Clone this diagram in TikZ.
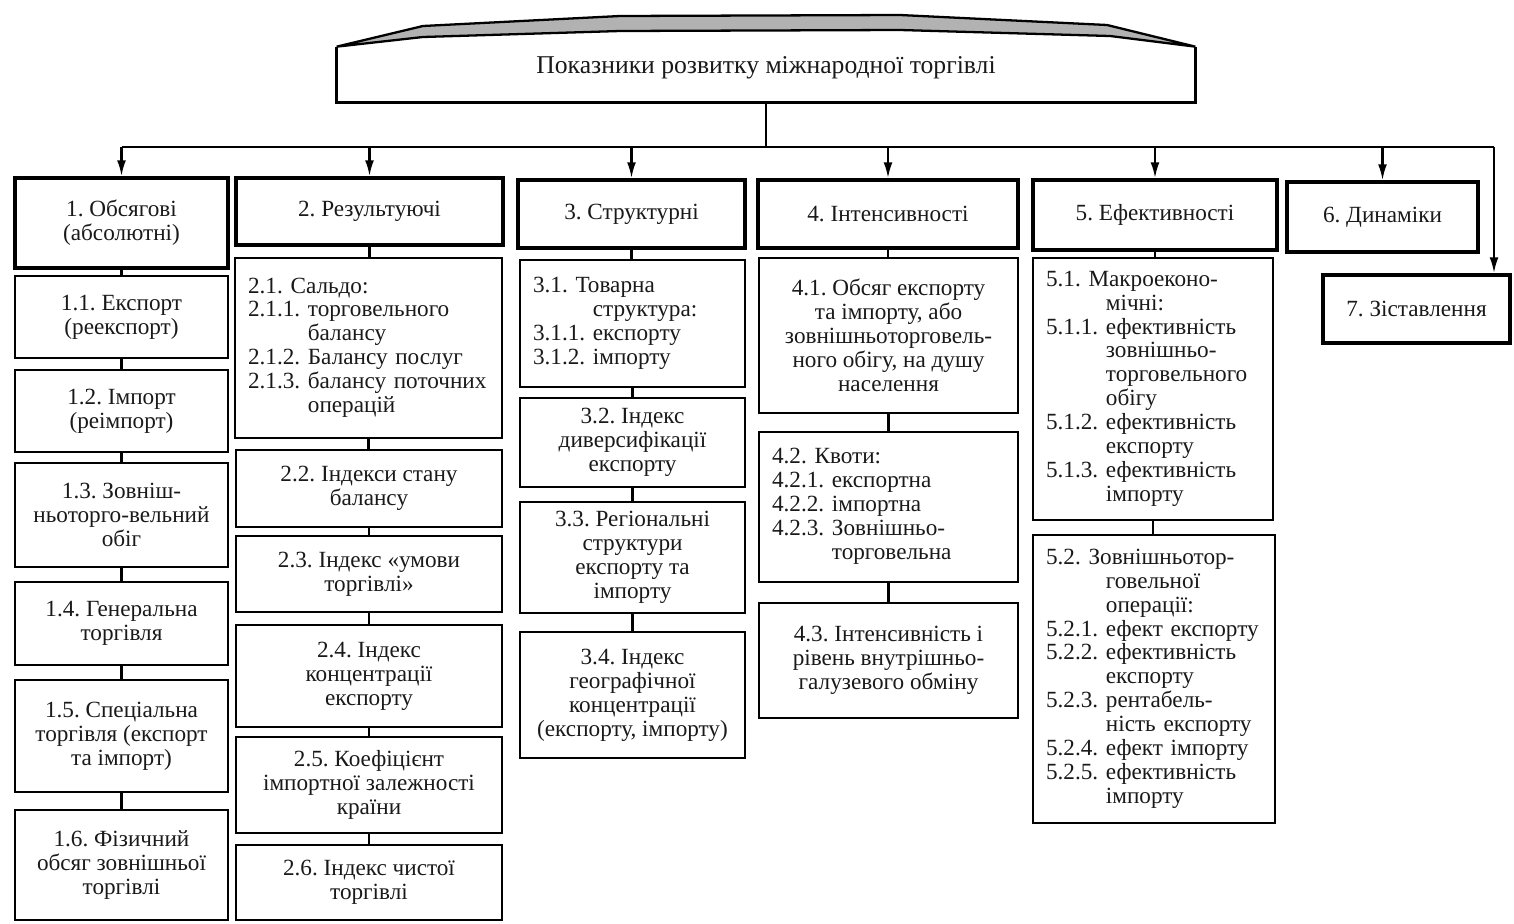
\documentclass[tikz,border=0pt]{standalone}
\usepackage{fontspec}
\setmainfont{Liberation Serif}
\frenchspacing
\usetikzlibrary{arrows.meta}
\tikzset{
    box/.style 2 args={
            draw, line width=1.3pt, align=center, inner sep=0pt, text=black!90,
            minimum width=#1*0.02cm, minimum height=#2*0.02cm,
            font=\fontsize{13.2}{13.6}\selectfont
        },
    headbox/.style 2 args={box={#1}{#2}, line width=2pt},
    listbox/.style={align=left, inner xsep=0.26cm},
    link/.style={line width=1.3pt},
    feed/.style={line width=1.3pt, -{Latex[length=9pt,width=5pt]}},
}

\begin{document}
\begin{tikzpicture}[x=0.02cm, y=-0.02cm]
        \useasboundingbox (0, 0) rectangle (1514, 923);
        %title
        \node[minimum width=858*0.02cm, minimum height=55*0.02cm, inner sep=0pt, text depth=11pt,
            text=black!90, font=\fontsize{14.6}{15}\selectfont] (title) at (766, 74.5) {Показники розвитку міжнародної торгівлі};
        \draw[line width=2pt] (title.north west) -- (title.south west) -- (title.south east) -- (title.north east);
        \draw[line width=1.3pt, fill=gray!60] (title.north west) -- (423, 26) -- (620, 16) -- (900, 15) -- (1107, 25)
        -- (title.north east) -- (1110, 36) -- (900, 30) -- (620, 31) -- (423, 37) -- cycle;
        %main groups
        \node[headbox={213}{90}] (n1) at (121.5, 223) {1. Обсягові\\(абсолютні)};
        \node[headbox={267}{67}] (n2) at (369.5, 211.5) {2. Результуючі};
        \node[headbox={227}{68}] (n3) at (631.5, 214) {3. Структурні};
        \node[headbox={260}{68}] (n4) at (888, 214) {4. Інтенсивності};
        \node[headbox={244}{70}] (n5) at (1155, 215) {5. Ефективності};
        \node[headbox={191}{70}] (n6) at (1382.5, 217) {6. Динаміки};
        \node[headbox={187}{68}] (n7) at (1416.5, 309) {7. Зіставлення};
        %column 1
        \node[box={213}{82}] (n11) at (121.5, 317) {1.1. Експорт\\(реекспорт)};
        \node[box={213}{82}] (n12) at (121.5, 411) {1.2. Імпорт\\(реімпорт)};
        \node[box={213}{104}] (n13) at (121.5, 515) {1.3. Зовніш-\\ньоторго-вельний\\обіг};
        \node[box={213}{83}] (n14) at (121.5, 623.5) {1.4. Генеральна\\торгівля};
        \node[box={213}{112}] (n15) at (121.5, 736) {1.5. Спеціальна\\торгівля (експорт\\та імпорт)};
        \node[box={213}{110}] (n16) at (121.5, 865) {1.6. Фізичний\\обсяг зовнішньої\\торгівлі};
        %column 2
        \node[box={267}{180}, listbox, text width=4.82cm] (n21) at (368.5, 348) {%
            \begin{tabular}{@{}l@{ }l@{}}
                \multicolumn{2}{@{}l@{}}{2.1. Сальдо:} \\
                2.1.1. & торговельного                 \\
                       & балансу                       \\
                2.1.2. & Балансу послуг                \\
                2.1.3. & балансу поточних              \\
                       & операцій
            \end{tabular}};
        \node[box={266}{77}] (n22) at (369, 488.5) {2.2. Індекси стану\\балансу};
        \node[box={266}{76}] (n23) at (369, 574) {2.3. Індекс «умови\\торгівлі»};
        \node[box={266}{102}] (n24) at (369, 676) {2.4. Індекс\\концентрації\\експорту};
        \node[box={266}{96}] (n25) at (369, 785) {2.5. Коефіцієнт\\імпортної залежності\\країни};
        \node[box={266}{75}] (n26) at (369, 882.5) {2.6. Індекс чистої\\торгівлі};
        %column 3
        \node[box={225}{127}, listbox, text width=3.98cm] (n31) at (632.5, 323.5) {%
            \begin{tabular}{@{}l@{ }l@{}}
                \multicolumn{2}{@{}l@{}}{3.1. Товарна} \\
                       & структура:                    \\
                3.1.1. & експорту                      \\
                3.1.2. & імпорту
            \end{tabular}};
        \node[box={225}{89}] (n32) at (632.5, 442.5) {3.2. Індекс\\диверсифікації\\експорту};
        \node[box={225}{111}] (n33) at (632.5, 557.5) {3.3. Регіональні\\структури\\експорту та\\імпорту};
        \node[box={225}{126}] (n34) at (632.5, 695) {3.4. Індекс\\географічної\\концентрації\\(експорту, імпорту)};
        %column 4
        \node[box={259}{155}] (n41) at (888.5, 335.5) {4.1. Обсяг експорту\\та імпорту, або\\зовнішньоторговель-\\ного обігу, на душу\\населення};
        \node[box={259}{150}, listbox, text width=4.66cm] (n42) at (888.5, 507) {%
            \begin{tabular}{@{}l@{ }l@{}}
                \multicolumn{2}{@{}l@{}}{4.2. Квоти:} \\
                4.2.1. & експортна                   \\
                4.2.2. & імпортна                    \\
                4.2.3. & Зовнішньо-                  \\
                       & торговельна
            \end{tabular}};
        \node[box={259}{115}] (n43) at (888.5, 660.5) {4.3. Інтенсивність і\\рівень внутрішньо-\\галузевого обміну};
        %column 5
        \node[box={240}{262}, listbox, text width=4.28cm] (n51) at (1153, 389) {%
            \begin{tabular}{@{}l@{ }l@{}}
                \multicolumn{2}{@{}l@{}}{5.1. Макроеконо-} \\
                       & мічні:                            \\
                5.1.1. & ефективність                      \\
                       & зовнішньо-                        \\
                       & торговельного                     \\
                       & обігу                             \\
                5.1.2. & ефективність                      \\
                       & експорту                          \\
                5.1.3. & ефективність                      \\
                       & імпорту
            \end{tabular}};
        \node[box={242}{288}, listbox, text width=4.32cm] (n52) at (1154, 679) {%
            \begin{tabular}{@{}l@{ }l@{}}
                \multicolumn{2}{@{}l@{}}{5.2. Зовнішньотор-} \\
                       & говельної                           \\
                       & операції:                           \\
                5.2.1. & ефект експорту                      \\
                5.2.2. & ефективність                        \\
                       & експорту                            \\
                5.2.3. & рентабель-                          \\
                       & ність експорту                      \\
                5.2.4. & ефект імпорту                       \\
                5.2.5. & ефективність                        \\
                       & імпорту
            \end{tabular}};
        %bus and arrows
        \coordinate (bus) at (766, 147);
        \coordinate (corner) at (1494, 147);
        \draw[link] (title.south) -- (bus);
        \draw[link] (n1.north |- bus) -- (corner);
        \foreach \n in {n1, n2, n3, n4, n5, n6}
        \draw[feed] (\n.north |- bus) -- (\n.north);
        \draw[feed] (corner) -- (n7.north -| corner);
        %column links
        \foreach \a/\b in {n1/n11, n11/n12, n12/n13, n13/n14, n14/n15, n15/n16,
                n2/n21, n21/n22, n22/n23, n23/n24, n24/n25, n25/n26,
                n3/n31, n31/n32, n32/n33, n33/n34,
                n4/n41, n41/n42, n42/n43,
                n5/n51, n51/n52}
        \draw[link] (\a.south) -- (\a.south |- \b.north);
    \end{tikzpicture}
\end{document}
